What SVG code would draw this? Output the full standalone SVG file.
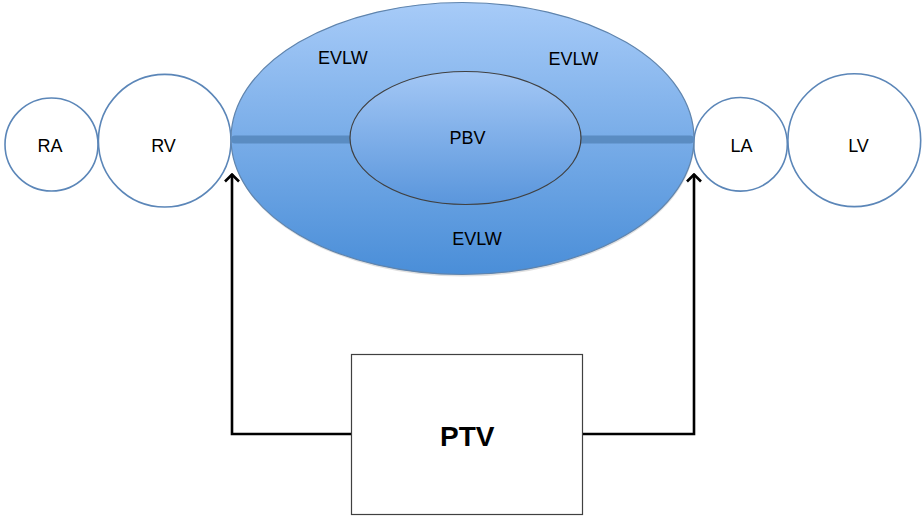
<svg xmlns="http://www.w3.org/2000/svg" width="922" height="517" viewBox="0 0 922 517">
<defs>
<linearGradient id="gBig" x1="0" y1="0" x2="0" y2="1">
<stop offset="0" stop-color="#a7cbf8"/>
<stop offset="1" stop-color="#4a8ed8"/>
</linearGradient>
<linearGradient id="gIn" x1="0" y1="0" x2="0" y2="1">
<stop offset="0" stop-color="#a3c7f5"/>
<stop offset="1" stop-color="#5a96dc"/>
</linearGradient>
<marker id="arr" viewBox="0 0 10 16" refX="8.5" refY="8" markerWidth="10" markerHeight="16" markerUnits="userSpaceOnUse" orient="auto">
<path d="M1,1 L8,8 L1,15" fill="none" stroke="#000" stroke-width="2.6"/>
</marker>
</defs>
<style>
.lbl{font-family:"Liberation Sans",Arial,sans-serif;font-size:18px;fill:#000;text-anchor:middle}
.ptv{font-family:"Liberation Sans",Arial,sans-serif;font-size:28px;font-weight:bold;fill:#000;text-anchor:middle}
.chamber{fill:#fff;stroke:#5b86b8;stroke-width:1.6}
.conn{fill:none;stroke:#000;stroke-width:2.6}
.bar{stroke:#5a8cc2;stroke-width:8;stroke-linecap:round}
</style>
<g id="RA"><circle class="chamber" cx="51.5" cy="144.5" r="46.5"/><text class="lbl" x="50" y="152">RA</text></g>
<g id="RV"><circle class="chamber" cx="164.7" cy="140.7" r="66.3"/><text class="lbl" x="163.5" y="152">RV</text></g>
<g id="LA"><circle class="chamber" cx="740.5" cy="144.3" r="46.8"/><text class="lbl" x="741.5" y="152">LA</text></g>
<g id="LV"><circle class="chamber" cx="854.3" cy="140.2" r="66.4"/><text class="lbl" x="858.5" y="152">LV</text></g>
<g id="EVLW">
<ellipse cx="463" cy="140.5" rx="231.5" ry="136" fill="#000" opacity="0.12"/>
<ellipse cx="462.5" cy="138.5" rx="231.5" ry="136" fill="url(#gBig)" stroke="#5f84ad" stroke-width="1.2"/>
<line class="bar" x1="235" y1="139.5" x2="352" y2="139.5"/>
<line class="bar" x1="580" y1="139.5" x2="690" y2="139.5"/>
<text class="lbl" x="342.8" y="64.3">EVLW</text>
<text class="lbl" x="573.3" y="64.7">EVLW</text>
<text class="lbl" x="477" y="245">EVLW</text>
</g>
<g id="PBV"><ellipse cx="465.5" cy="138" rx="115.5" ry="66.5" fill="url(#gIn)" stroke="#404040" stroke-width="1.2"/><text class="lbl" x="467.5" y="143.8">PBV</text></g>
<g id="PTV"><rect x="351.5" y="354.5" width="231" height="160" fill="#fff" stroke="#404040" stroke-width="1.2"/><text class="ptv" x="467.3" y="446">PTV</text></g>
<g id="connectors">
<path class="conn" d="M351,434 H232 V174" marker-end="url(#arr)"/>
<path class="conn" d="M583,434 H694 V174" marker-end="url(#arr)"/>
</g>
</svg>
